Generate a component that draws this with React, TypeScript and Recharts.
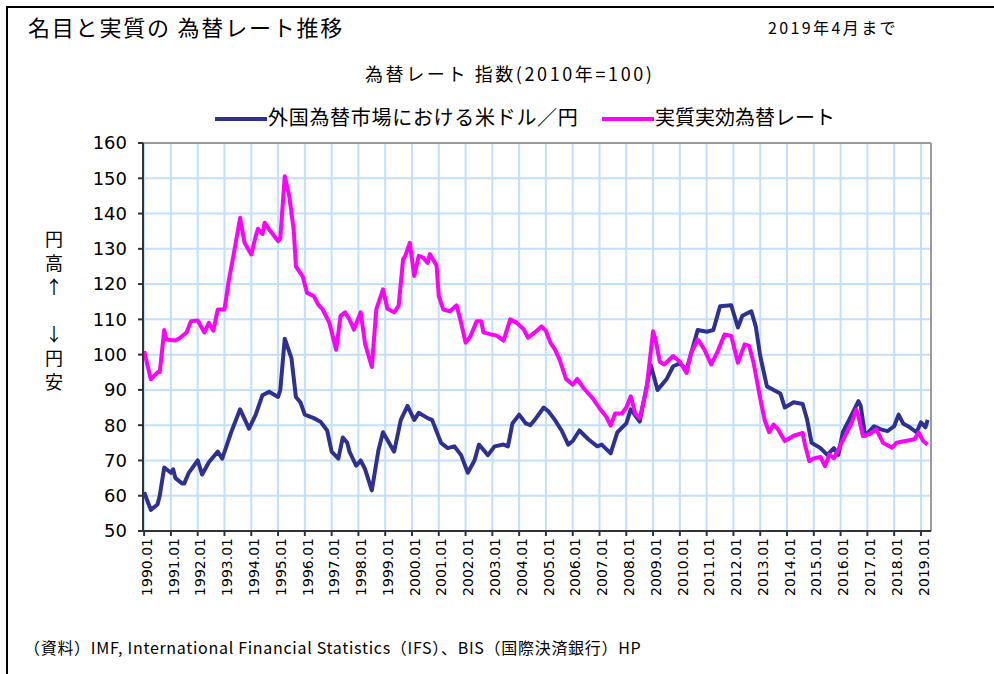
import { LineChart, Line, XAxis, YAxis, CartesianGrid, ReferenceLine } from 'recharts'

// month index from 1990.01, index value (2010 = 100)
const nominal: [number, number][] = [
  [0, 61], [3, 56], [6, 57.5], [7, 60], [9, 68], [12, 66.5], [13, 67.5], [14, 65], [17, 63.5], [18, 63.5],
  [20, 66.5], [24, 70], [26, 66], [29, 69.5], [33, 72.5], [35, 70.5], [39, 78], [43, 84.5], [47, 79], [50, 83],
  [53, 88.5], [56, 89.5], [60, 88], [61, 90], [63, 104.5], [66, 99], [68, 88], [70, 86.5], [72, 83], [76, 82],
  [79, 81], [82, 78.5], [84, 72.5], [87, 70.5], [89, 76.5], [91, 75], [92, 72.5], [95, 68.5], [97, 70], [99, 67.5],
  [102, 61.5], [105, 73], [107, 78], [112, 72.5], [115, 81.5], [118, 85.5], [121, 81.5], [123, 83.5], [127, 82], [129, 81.5],
  [133, 75], [136, 73.5], [139, 74], [142, 71.5], [145, 66.5], [148, 70], [150, 74.5], [154, 71.5], [157, 74], [161, 74.5],
  [163, 74], [165, 80.5], [168, 83], [171, 80.5], [173, 80], [175, 81.5], [179, 85], [181, 84], [184, 81.5], [187, 78.5],
  [190, 74.5], [192, 75.5], [195, 78.5], [199, 76], [203, 74], [205, 74.5], [209, 72], [212, 78], [216, 80.5], [218, 84.5],
  [222, 81], [227, 97], [230, 90], [234, 93], [237, 96.7], [240, 97.5], [243, 95.8], [248, 107], [252, 106.5], [255, 107],
  [258, 113.7], [263, 114], [266, 107.7], [268, 111], [272, 112.3], [274, 108], [276, 99.6], [279, 91], [282, 90], [285, 89],
  [287, 85], [291, 86.5], [295, 86], [297, 81.6], [299, 75], [303, 73.5], [306, 71.6], [309, 73.5], [311, 71.6], [313, 78],
  [317, 83], [320, 86.8], [321, 85.5], [323, 77], [327, 79.7], [330, 78.8], [333, 78.3], [336, 79.7], [338, 83], [340, 80.5],
  [343, 79.4], [346, 78], [348, 80.8], [350, 79.4], [351, 81.5],
]

const real: [number, number][] = [
  [0, 101], [3, 93], [6, 95], [7, 95], [9, 107], [10, 104.3], [14, 104], [16, 104.7], [19, 106.3], [21, 109.5],
  [24, 109.7], [27, 106.3], [29, 109], [31, 106.8], [33, 112.8], [36, 112.8], [38, 121.3], [40, 128], [43, 138.8], [45, 131.7],
  [48, 128.4], [50, 133.6], [51, 135.7], [53, 134.2], [54, 137.4], [56, 135.5], [60, 132.2], [61, 133], [63, 150.6], [65, 145],
  [67, 135.5], [68, 125], [71, 122.2], [73, 117.5], [76, 116.6], [78, 114.2], [80, 112.8], [83, 109], [86, 101.4], [88, 111],
  [90, 112], [92, 110], [94, 107.1], [97, 112], [99, 103], [102, 96.5], [104, 112.8], [107, 118.5], [109, 113], [112, 112],
  [114, 113.8], [116, 127], [117, 128], [119, 131.7], [121, 122.3], [123, 128], [125, 127.5], [127, 126], [128, 128.5], [131, 125.3],
  [132, 116.6], [134, 112.8], [137, 112.3], [140, 114], [142, 109], [144, 103.4], [146, 105], [149, 109.5], [151, 109.5], [152, 106.3],
  [155, 105.8], [158, 105.4], [161, 104], [164, 110], [167, 109], [170, 107.2], [172, 104.8], [175, 106.3], [178, 108], [180, 106.7],
  [182, 103.4], [184, 101.5], [186, 98.8], [189, 93.1], [192, 91.5], [194, 93.1], [197, 90.4], [201, 87.6], [204, 84.8], [207, 82.4],
  [209, 79.9], [211, 83.3], [214, 83.3], [216, 85], [218, 88.2], [220, 83.3], [222, 82], [225, 90], [228, 106.6], [229, 104.5],
  [231, 98], [233, 97.2], [237, 99.6], [240, 98], [243, 94.8], [245, 100.5], [248, 104.3], [251, 101.4], [254, 97.2], [257, 101],
  [260, 105.7], [263, 105.3], [266, 97.7], [269, 102.9], [271, 102.5], [273, 97.7], [276, 87.6], [278, 81.4], [280, 78], [282, 80.2],
  [284, 78.8], [287, 75.5], [291, 77], [295, 77.8], [296, 74.5], [298, 69.8], [300, 70.6], [303, 71], [305, 68.4], [307, 71.7],
  [309, 70.6], [311, 73.1], [314, 77], [317, 80.7], [319, 84.4], [320, 82.5], [322, 76.9], [325, 77.5], [328, 78.8], [331, 75],
  [335, 73.6], [337, 75], [341, 75.5], [345, 76], [347, 77.9], [349, 75.5], [351, 74.5],
]

const yearLabels = [
  '1990.01', '1991.01', '1992.01', '1993.01', '1994.01', '1995.01', '1996.01', '1997.01', '1998.01', '1999.01',
  '2000.01', '2001.01', '2002.01', '2003.01', '2004.01', '2005.01', '2006.01', '2007.01', '2008.01', '2009.01',
  '2010.01', '2011.01', '2012.01', '2013.01', '2014.01', '2015.01', '2016.01', '2017.01', '2018.01', '2019.01',
]
const yTicks = [50, 60, 70, 80, 90, 100, 110, 120, 130, 140, 150, 160]
const captionUp = ['円', '高', '↑']
const captionDown = ['↓', '円', '安']

const BLUE = '#2e3192'
const PINK = '#ff00ff'
const JP = '"Noto Sans CJK JP", "Noto Sans", sans-serif'

const xTicks = yearLabels.map((_, i) => i * 12)
const nomMap = new Map(nominal)
const realMap = new Map(real)
const rows = Array.from(new Set([...nominal.map(p => p[0]), ...real.map(p => p[0])]))
  .sort((a, b) => a - b)
  .map(m => ({ m, nominal: nomMap.get(m), real: realMap.get(m) }))

function YearTick({ x, y, payload }: any) {
  const label = yearLabels[Math.round(payload.value / 12)]
  return (
    <text x={x} y={y} transform={`rotate(-90, ${x}, ${y})`} textAnchor="end" dy="0.55em"
      fontSize={14} fontFamily="DejaVu Sans" fill="#000">
      {label}
    </text>
  )
}

const abs = (left: number, top: number, fontSize: number, extra: any = {}) => ({
  position: 'absolute' as const, left, top, fontSize, lineHeight: 1, whiteSpace: 'nowrap' as const, ...extra,
})

export default function App() {
  return (
    <div style={{ position:'absolute', left:0, top:0, width:994, height:674, background:'#fff', fontFamily: JP, color:'#000', overflow:'hidden' }}>
      {/* frame (only top and left edges visible) */}
      <div style={{ position:'absolute', left:6, top:6, width:1000, height:700, borderTop:'2px solid #000', borderLeft:'2px solid #000' }} />

      <div style={abs(28, 15, 22, { letterSpacing: 1.8 })}>名目と実質の 為替レート推移</div>
      <div style={abs(768, 19, 16, { letterSpacing: 2.4 })}>2019年4月まで</div>
      <div style={abs(365, 64, 18, { letterSpacing: 2.6 })}>為替レート 指数(2010年=100)</div>

      {/* legend */}
      <div style={{ position:'absolute', left:215, top:117, width:52, height:4, background:BLUE }} />
      <div style={abs(268, 107, 20, { letterSpacing: 0.7 })}>外国為替市場における米ドル／円</div>
      <div style={{ position:'absolute', left:602, top:117, width:52, height:4, background:PINK }} />
      <div style={abs(655, 107, 20)}>実質実効為替レート</div>

      {/* y axis caption, one character per row */}
      {captionUp.map((c, i) => (
        <div key={'u' + i} style={abs(45, 229 + i * 24, 18, { width:18, textAlign:'center' })}>{c}</div>
      ))}
      {captionDown.map((c, i) => (
        <div key={'d' + i} style={abs(45, 324 + i * 24, 18, { width:18, textAlign:'center' })}>{c}</div>
      ))}

      <div style={abs(24, 639, 16, { letterSpacing: 0.7 })}>（資料）IMF, International Financial Statistics（IFS）、BIS（国際決済銀行）HP</div>

      <div style={{ position:'absolute', left:0, top:0 }}>
        <LineChart width={994} height={674} data={rows} margin={{ top:143, right:63, bottom:73, left:0 }}>
          <CartesianGrid stroke="#c2dffb" strokeWidth={2} />
          <XAxis dataKey="m" type="number" domain={[-0.5, 352.5]} ticks={xTicks} interval={0}
            height={70} tick={<YearTick />} tickSize={5} tickMargin={2}
            axisLine={{ stroke:'#333', strokeWidth:2 }} tickLine={{ stroke:'#333', strokeWidth:2 }} allowDataOverflow />
          <YAxis type="number" domain={[50, 160]} ticks={yTicks} interval={0} width={143}
            tick={{ fontSize:18, fontFamily:'DejaVu Sans', fill:'#000' }} tickSize={5} tickMargin={11}
            axisLine={{ stroke:'#333', strokeWidth:2 }} tickLine={{ stroke:'#333', strokeWidth:2 }} />
          <ReferenceLine y={160} stroke="#9a9a9a" strokeWidth={2} />
          <ReferenceLine x={352.5} stroke="#9a9a9a" strokeWidth={2} />
          <Line dataKey="nominal" type="linear" stroke={BLUE} strokeWidth={4} dot={false} connectNulls
            strokeLinejoin="round" isAnimationActive={false} />
          <Line dataKey="real" type="linear" stroke={PINK} strokeWidth={4} dot={false} connectNulls
            strokeLinejoin="round" isAnimationActive={false} />
        </LineChart>
      </div>
    </div>
  )
}
